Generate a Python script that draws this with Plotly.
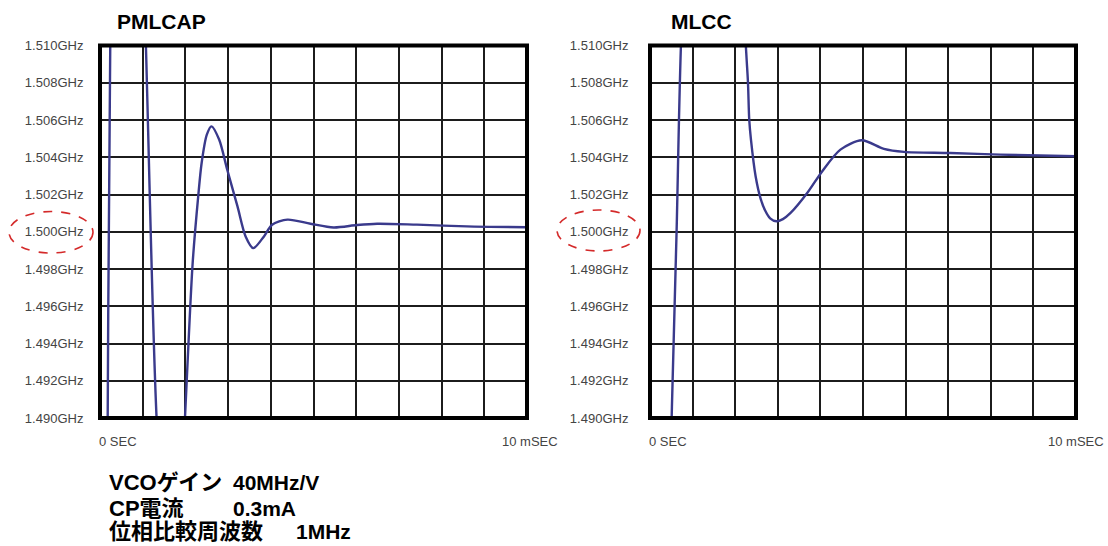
import plotly.graph_objects as go

W, H = 1108, 546

# ---- data (time in ms, frequency in GHz) ----
pml_t = [0, 0.18, 0.24, 0.65, 1.075, 1.325, 1.66, 1.99, 2.05, 2.17, 2.30, 2.38, 2.50, 2.61,
         2.79, 2.98, 3.22, 3.41, 3.59, 3.84, 4.03, 4.39, 4.93, 5.47, 6.02, 6.49, 7.42, 8.59, 10.0]
pml_f = [1.430, 1.490, 1.510, 1.545, 1.510, 1.490, 1.478, 1.490, 1.49294, 1.49832, 1.50190, 1.50369,
         1.5052, 1.50566, 1.50495, 1.50333, 1.50136, 1.49975, 1.49912, 1.49975, 1.50038, 1.50065,
         1.50043, 1.50023, 1.50036, 1.50043, 1.50038, 1.50029, 1.50024]

mlcc_t = [0, 0.508, 0.625, 0.726, 1.45, 2.25, 2.30, 2.33, 2.37, 2.48, 2.60, 2.70, 2.82, 2.97,
          3.12, 3.30, 3.69, 4.04, 4.47, 4.97, 5.49, 5.96, 7.05, 8.22, 10.0]
mlcc_f = [1.443, 1.490, 1.5001, 1.510, 1.550, 1.510, 1.508, 1.506, 1.50495, 1.50297, 1.50175,
          1.50115, 1.50072, 1.50056, 1.50068, 1.50101, 1.50208, 1.50324, 1.50441, 1.50491,
          1.50445, 1.50429, 1.50423, 1.50414, 1.50405]

y_ticks = [1.490, 1.492, 1.494, 1.496, 1.498, 1.500, 1.502, 1.504, 1.506, 1.508, 1.510]
y_labels = [f"{v:.3f}GHz" for v in y_ticks]
titles = ["PMLCAP", "MLCC"]
x_start_label = "0 SEC"
x_end_label = "10 mSEC"
notes = [("VCOゲイン", "40MHz/V"), ("CP電流", "0.3mA"), ("位相比較周波数", "1MHz")]

LINE_COLOR = "#3a3a8c"
GRID_COLOR = "#1c1c1c"
LABEL_COLOR = "#444444"


def px(x):
    return x / W


def py(y):
    return 1 - y / H


fig = go.Figure()
fig.add_trace(go.Scatter(x=pml_t, y=pml_f, mode="lines", xaxis="x", yaxis="y",
                         line=dict(color=LINE_COLOR, width=2.4, shape="spline", smoothing=0.8)))
fig.add_trace(go.Scatter(x=mlcc_t, y=mlcc_f, mode="lines", xaxis="x2", yaxis="y2",
                         line=dict(color=LINE_COLOR, width=2.4, shape="spline", smoothing=0.8)))

# plot areas in pixels
left_dom = (100, 527)
right_dom = (650, 1076)
top_y, bot_y = 45.5, 418

xa = dict(range=[0, 10], dtick=1, showgrid=True, gridcolor=GRID_COLOR, gridwidth=1.6,
          showticklabels=False, zeroline=False, showline=False, fixedrange=True,
          automargin=False)
ya = dict(range=[1.490, 1.510], tickvals=y_ticks, ticktext=y_labels, showgrid=True,
          gridcolor=GRID_COLOR, gridwidth=1.6, zeroline=False, showline=False,
          ticks="outside", ticklen=13, tickcolor="rgba(0,0,0,0)", automargin=False,
          fixedrange=True,
          tickfont=dict(family="Liberation Sans, Arial", size=13, color=LABEL_COLOR),
          domain=[py(bot_y), py(top_y)])

fig.update_layout(
    width=W, height=H, margin=dict(l=0, r=0, t=0, b=0, pad=0, autoexpand=False),
    paper_bgcolor="white", plot_bgcolor="white", showlegend=False,
    xaxis=dict(xa, domain=[px(left_dom[0]), px(left_dom[1])], anchor="y"),
    yaxis=dict(ya, anchor="x"),
    xaxis2=dict(xa, domain=[px(right_dom[0]), px(right_dom[1])], anchor="y2"),
    yaxis2=dict(ya, anchor="x2", ticklen=18),
)

shapes = []
for xr, yr in (("x domain", "y domain"), ("x2 domain", "y2 domain")):
    shapes.append(dict(type="rect", xref=xr, yref=yr, x0=0, x1=1, y0=0, y1=1,
                       line=dict(color="black", width=4), layer="above"))
# red dashed ellipses around 1.500GHz labels
for (x0, x1, y0, y1) in ((9, 93, 211.5, 253), (557, 640, 210, 251)):
    shapes.append(dict(type="circle", xref="paper", yref="paper",
                       x0=px(x0), x1=px(x1), y0=py(y1), y1=py(y0),
                       line=dict(color="#d42a2a", width=1.6, dash="dash")))
fig.update_layout(shapes=shapes)

ann = []
# titles
for title, x in zip(titles, (115, 669)):
    ann.append(dict(text=f"<b>{title}</b>", x=px(x), y=py(21.5), xref="paper", yref="paper",
                    xanchor="left", yanchor="middle", showarrow=False,
                    font=dict(family="Liberation Sans, Arial", size=21, color="black")))
# x end labels
for (xl, xr) in ((97, 530), (647, 1106)):
    ann.append(dict(text=x_start_label, x=px(xl), y=py(441.5), xref="paper", yref="paper",
                    xanchor="left", yanchor="middle", showarrow=False,
                    font=dict(family="Liberation Sans, Arial", size=13, color=LABEL_COLOR)))
    ann.append(dict(text=x_end_label, x=px(xr), y=py(441.5), xref="paper", yref="paper",
                    xanchor="center" if xr < 1000 else "right", yanchor="middle", showarrow=False,
                    font=dict(family="Liberation Sans, Arial", size=13, color=LABEL_COLOR)))
# notes
note_y = [482.5, 508.5, 531.5]
note_x2 = [231, 231, 294]
note_size_a = [22, 22, 22]
for (a, b), yy, x2, sa in zip(notes, note_y, note_x2, note_size_a):
    ann.append(dict(text=f"<b>{a}</b>", x=px(107), y=py(yy), xref="paper", yref="paper",
                    xanchor="left", yanchor="middle", showarrow=False,
                    font=dict(family="Liberation Sans, Noto Sans CJK JP, Arial", size=sa, color="black")))
    ann.append(dict(text=f"<b>{b}</b>", x=px(x2), y=py(yy), xref="paper", yref="paper",
                    xanchor="left", yanchor="middle", showarrow=False,
                    font=dict(family="Liberation Sans, Arial", size=21, color="black")))
fig.update_layout(annotations=ann)

fig.write_html("out.html", config={"displayModeBar": False},
               post_script="document.body.style.margin='0';")
